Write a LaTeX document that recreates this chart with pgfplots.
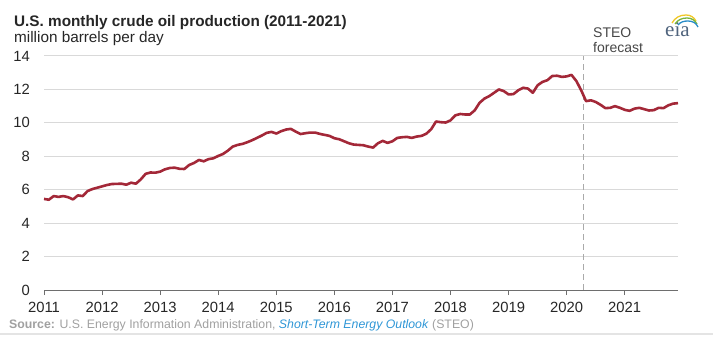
\documentclass[border=0pt]{standalone}
\usepackage{pgfplots}
\usepackage{pgfplotstable}
\pgfplotsset{compat=1.18}
\usepackage{fontspec}
\setmainfont{Liberation Sans}
\newfontfamily\logofont{Liberation Serif}
\definecolor{oilred}{RGB}{163,40,56}
\definecolor{gridgray}{RGB}{217,217,217}
\definecolor{axgray}{RGB}{110,110,110}
\definecolor{txt}{RGB}{38,38,38}
\definecolor{srcgray}{RGB}{160,160,160}
\definecolor{srcblue}{RGB}{46,150,214}
\definecolor{dashgray}{RGB}{170,170,170}
\definecolor{logotext}{RGB}{80,100,125}
\definecolor{logoyellow}{RGB}{240,200,40}
\definecolor{logogreen}{RGB}{120,180,60}
\definecolor{logoblue}{RGB}{40,140,200}
\definecolor{bottomline}{RGB}{228,228,228}

\pgfplotstableread{
x y
2011.000 5.45
2011.083 5.40
2011.167 5.62
2011.250 5.57
2011.333 5.62
2011.417 5.55
2011.500 5.42
2011.583 5.66
2011.667 5.62
2011.750 5.92
2011.833 6.04
2011.917 6.12
2012.000 6.20
2012.083 6.28
2012.167 6.34
2012.250 6.35
2012.333 6.36
2012.417 6.30
2012.500 6.42
2012.583 6.36
2012.667 6.62
2012.750 6.95
2012.833 7.03
2012.917 7.02
2013.000 7.08
2013.083 7.22
2013.167 7.30
2013.250 7.32
2013.333 7.25
2013.417 7.24
2013.500 7.48
2013.583 7.60
2013.667 7.78
2013.750 7.70
2013.833 7.83
2013.917 7.88
2014.000 8.02
2014.083 8.14
2014.167 8.34
2014.250 8.58
2014.333 8.68
2014.417 8.74
2014.500 8.84
2014.583 8.96
2014.667 9.10
2014.750 9.24
2014.833 9.40
2014.917 9.46
2015.000 9.36
2015.083 9.50
2015.167 9.60
2015.250 9.64
2015.333 9.48
2015.417 9.33
2015.500 9.38
2015.583 9.42
2015.667 9.42
2015.750 9.34
2015.833 9.28
2015.917 9.22
2016.000 9.08
2016.083 9.02
2016.167 8.90
2016.250 8.78
2016.333 8.70
2016.417 8.68
2016.500 8.66
2016.583 8.58
2016.667 8.52
2016.750 8.78
2016.833 8.92
2016.917 8.80
2017.000 8.90
2017.083 9.10
2017.167 9.14
2017.250 9.16
2017.333 9.10
2017.417 9.18
2017.500 9.22
2017.583 9.35
2017.667 9.62
2017.750 10.08
2017.833 10.04
2017.917 10.02
2018.000 10.15
2018.083 10.45
2018.167 10.53
2018.250 10.50
2018.333 10.50
2018.417 10.75
2018.500 11.20
2018.583 11.45
2018.667 11.60
2018.750 11.80
2018.833 12.00
2018.917 11.90
2019.000 11.70
2019.083 11.72
2019.167 11.95
2019.250 12.10
2019.333 12.05
2019.417 11.80
2019.500 12.25
2019.583 12.45
2019.667 12.55
2019.750 12.80
2019.833 12.82
2019.917 12.75
2020.000 12.78
2020.083 12.87
2020.167 12.50
2020.250 11.95
2020.333 11.30
2020.417 11.35
2020.500 11.25
2020.583 11.08
2020.667 10.88
2020.750 10.90
2020.833 11.00
2020.917 10.90
2021.000 10.78
2021.083 10.72
2021.167 10.85
2021.250 10.90
2021.333 10.82
2021.417 10.74
2021.500 10.76
2021.583 10.90
2021.667 10.88
2021.750 11.05
2021.833 11.15
2021.917 11.18
}\oildata

\begin{document}
\begin{tikzpicture}[x=1bp,y=1bp]
\useasboundingbox (0,0) rectangle (713,338);
% titles
\node[anchor=base west, inner sep=0, text=txt, font=\fontsize{15.3bp}{18bp}\selectfont\bfseries] at (14,338-26.5) {U.S. monthly crude oil production (2011-2021)};
\node[anchor=base west, inner sep=0, text=txt, font=\fontsize{15.3bp}{18bp}\selectfont] at (14,338-42.5) {million barrels per day};
% STEO label
\node[anchor=base west, inner sep=0, text=txt!85, font=\fontsize{14bp}{16bp}\selectfont] at (593,338-37) {STEO};
\node[anchor=base west, inner sep=0, text=txt!85, font=\fontsize{14bp}{16bp}\selectfont] at (593,338-52) {forecast};
% eia logo
\node[anchor=base west, inner sep=0, text=logotext, font=\logofont\fontsize{21bp}{24bp}\selectfont] at (665,338-36) {eia};
\draw[line width=1.3bp, logoyellow] (672,338-23) to[out=60,in=180] (686,338-15) to[out=0,in=120] (696,338-21);
\draw[line width=1.3bp, logogreen] (675,338-24) to[out=55,in=180] (687,338-18) to[out=0,in=120] (697,338-24);
\draw[line width=1.3bp, logoblue] (678,338-25) to[out=50,in=180] (688,338-21) to[out=0,in=115] (698,338-27);
% source
\node[anchor=base west, inner sep=0, text=srcgray, font=\fontsize{12.3bp}{14bp}\selectfont] at (9,338-328) {\textbf{Source:} U.S. Energy Information Administration, \textcolor{srcblue}{\textit{Short-Term Energy Outlook}} (STEO)};
\draw[bottomline, line width=2bp] (0,338-333.5) -- (713,338-333.5);

\begin{axis}[
  at={(44bp,48bp)}, anchor=south west,
  width=634bp, height=234bp, scale only axis,
  xmin=2011, xmax=2021.917, ymin=0, ymax=14,
  axis x line*=bottom, axis y line*=left,
  y axis line style={draw=none},
  x axis line style={draw=axgray, line width=1bp},
  ytick={0,2,...,14},
  xtick={2011,2012,...,2021},
  xticklabels={2011,2012,2013,2014,2015,2016,2017,2018,2019,2020,2021},
  ytick style={draw=none},
  xtick style={draw=axgray, line width=0.8bp},
  xtick align=outside, major tick length=5bp,
  ymajorgrids, grid style={draw=gridgray, line width=1bp},
  /pgf/number format/assume math mode=true,
  tick label style={font=\fontsize{14.8bp}{17bp}\selectfont, text=txt},
  yticklabel style={anchor=east, inner sep=0pt, xshift=-14bp},
  xticklabel style={anchor=north, inner sep=0pt, yshift=-7bp},
  clip=false,
]
\addplot[draw=dashgray, line width=1bp, dash pattern=on 6bp off 4bp] coordinates {(2020.29,0) (2020.29,14)};
\addplot[oilred, line width=2.6bp, line join=round] table[x=x,y=y] {\oildata};
\end{axis}
\end{tikzpicture}
\end{document}
